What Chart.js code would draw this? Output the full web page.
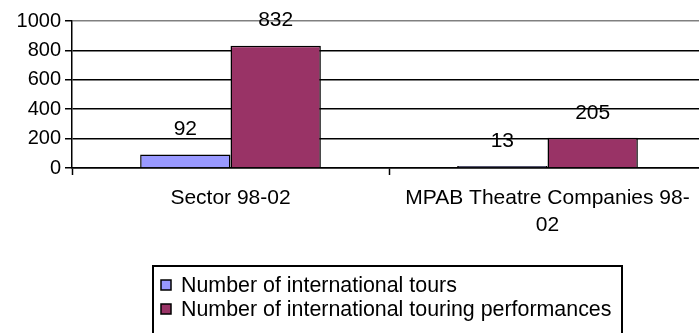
<!DOCTYPE html>
<html>
<head>
<meta charset="utf-8">
<script src="https://cdn.jsdelivr.net/npm/chart.js@4/dist/chart.umd.min.js"></script>
<style>
  html, body { margin: 0; padding: 0; background: #fff; overflow: hidden; }
  #wrap { width: 706px; height: 333px; position: relative; }
</style>
</head>
<body>
<div id="wrap"><canvas id="myChart"></canvas></div>
<script>
const categories = ['Sector 98-02', ['MPAB Theatre Companies 98-', '02']];
const tours = [92, 13];
const performances = [832, 205];
const seriesNames = ['Number of international tours', 'Number of international touring performances'];
const yMax = 1000;
const yStep = 200;

const FONT = "'Liberation Sans', Arial, sans-serif";

// value labels above each bar
const valueLabels = {
  id: 'valueLabels',
  afterDatasetsDraw(chart) {
    const ctx = chart.ctx;
    ctx.save();
    ctx.font = '21px ' + FONT;
    ctx.fillStyle = '#000';
    ctx.textAlign = 'center';
    ctx.textBaseline = 'middle';
    chart.data.datasets.forEach((ds, i) => {
      chart.getDatasetMeta(i).data.forEach((bar, j) => {
        ctx.fillText(ds.data[j], bar.x, bar.y - 25);
      });
    });
    ctx.restore();
  }
};

// boxed legend under the chart, like the excel one
const boxLegend = {
  id: 'boxLegend',
  afterDraw(chart) {
    const ctx = chart.ctx;
    const left = 153, top = chart.chartArea.bottom + 98, right = 622;
    ctx.save();
    ctx.strokeStyle = '#000';
    ctx.lineWidth = 2;
    ctx.beginPath();
    ctx.moveTo(left, chart.height + 5);
    ctx.lineTo(left, top);
    ctx.lineTo(right, top);
    ctx.lineTo(right, chart.height + 5);
    ctx.stroke();
    ctx.font = '21.4px ' + FONT;
    ctx.textBaseline = 'middle';
    chart.data.datasets.forEach((ds, i) => {
      const y = top + 19 + i * 24;
      ctx.fillStyle = ds.backgroundColor;
      ctx.fillRect(left + 8, y - 5, 10, 10);
      ctx.lineWidth = 1.5;
      ctx.strokeRect(left + 8, y - 5, 10, 10);
      ctx.fillStyle = '#000';
      ctx.fillText(ds.label, left + 28, y + 1);
    });
    ctx.restore();
  }
};

new Chart(document.getElementById('myChart'), {
  type: 'bar',
  data: {
    labels: categories,
    datasets: [
      {
        label: seriesNames[0],
        data: tours,
        backgroundColor: '#9999FF',
        borderColor: '#000',
        borderWidth: 1.5,
        categoryPercentage: 0.57,
        barPercentage: 1
      },
      {
        label: seriesNames[1],
        data: performances,
        backgroundColor: '#993366',
        borderColor: '#000',
        borderWidth: 1.5,
        categoryPercentage: 0.57,
        barPercentage: 1
      }
    ]
  },
  options: {
    responsive: true,
    maintainAspectRatio: false,
    animation: false,
    layout: { padding: { top: 21, right: 0, left: 0, bottom: 75 } },
    plugins: {
      legend: { display: false },
      tooltip: { enabled: false }
    },
    scales: {
      x: {
        grid: {
          offset: true,
          drawOnChartArea: false,
          tickLength: 7,
          tickColor: '#000',
          tickWidth: 1.5
        },
        border: { color: '#000', width: 1.5 },
        ticks: {
          color: '#000',
          font: { family: FONT, size: 21, lineHeight: 1.28 },
          maxRotation: 0,
          padding: 10
        },
        afterFit(scale) { scale.height = 90; }
      },
      y: {
        min: 0,
        max: yMax,
        ticks: {
          stepSize: yStep,
          color: '#000',
          font: { family: FONT, size: 20 },
          padding: 4,
          callback: v => String(v)
        },
        grid: {
          color: c => (c.tick && c.tick.value === yMax ? '#808080' : '#000'),
          lineWidth: 1.5,
          tickLength: 7,
          tickColor: '#000'
        },
        border: { color: '#000', width: 1.5 },
        afterFit(scale) { scale.width = 72; }
      }
    }
  },
  plugins: [valueLabels, boxLegend]
});
</script>
</body>
</html>
